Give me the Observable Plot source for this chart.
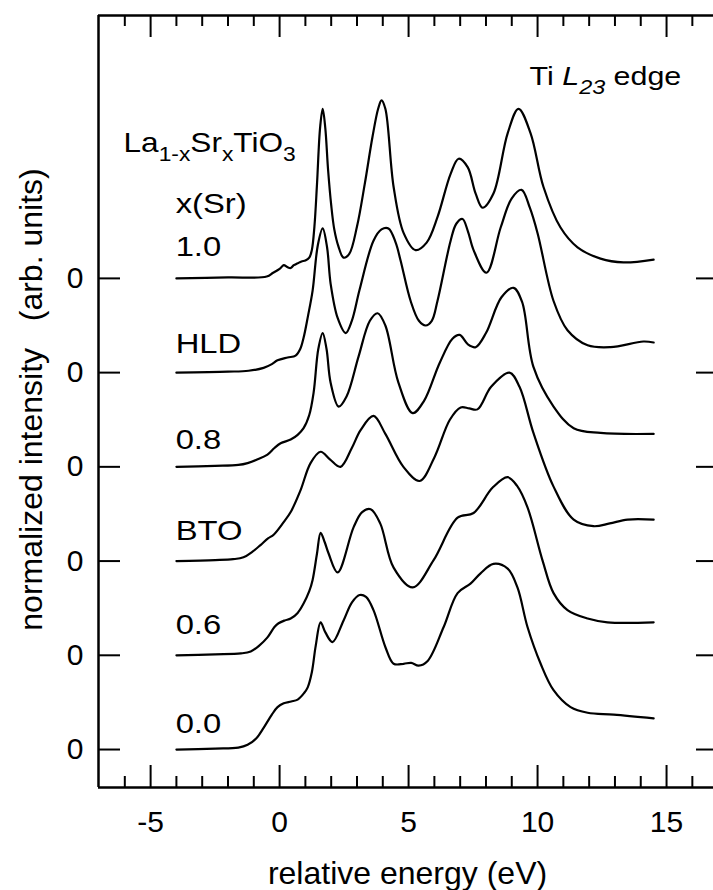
<!DOCTYPE html>
<html><head><meta charset="utf-8">
<script src="https://cdn.jsdelivr.net/npm/d3@7"></script>
<script src="https://cdn.jsdelivr.net/npm/@observablehq/plot@0.6"></script>
<style>html,body{margin:0;padding:0;background:#fff} svg{display:block} svg text{white-space:pre}</style>
</head><body>
<div id="chart"></div>
<script>
// ---- data: [relative energy (eV), normalized intensity above own baseline] ----
const s_00 = [[-4,0],[-2.5,0.01],[-1.6,0.02],[-1.24,0.05],[-0.9,0.12],[-0.62,0.23],[-0.3,0.37],[-0.08,0.45],[0.16,0.49],[0.45,0.51],[0.70,0.53],[0.95,0.6],[1.09,0.66],[1.25,0.82],[1.4,1.1],[1.59,1.35],[1.78,1.24],[2.05,1.14],[2.48,1.37],[2.8,1.56],[3.1,1.64],[3.35,1.62],[3.64,1.48],[4.11,1.08],[4.42,0.91],[4.81,0.91],[5.1,0.92],[5.39,0.89],[5.74,0.94],[6.36,1.30],[6.90,1.66],[7.40,1.76],[7.79,1.87],[8.29,1.97],[8.84,1.92],[9.22,1.72],[9.61,1.30],[10.12,0.91],[10.62,0.63],[11.28,0.45],[11.94,0.39],[12.95,0.37],[14.5,0.33]];
const s_06 = [[-4,0],[-2.5,0.01],[-1.5,0.02],[-1.12,0.04],[-0.8,0.1],[-0.47,0.19],[-0.2,0.3],[-0.04,0.34],[0.2,0.37],[0.43,0.39],[0.7,0.45],[0.93,0.55],[1.15,0.68],[1.28,0.80],[1.45,1.08],[1.59,1.30],[1.75,1.2],[1.90,1.08],[2.25,0.88],[2.87,1.36],[3.2,1.52],[3.53,1.55],[3.9,1.4],[4.42,0.93],[5.16,0.72],[5.97,1.01],[6.90,1.46],[7.52,1.51],[8.26,1.78],[8.84,1.89],[9.2,1.8],[9.61,1.57],[10.2,1.0],[10.62,0.66],[11.16,0.48],[11.94,0.39],[12.71,0.35],[14.5,0.35]];
const s_BTO = [[-4,0],[-2.5,0.01],[-1.8,0.02],[-1.40,0.04],[-1.05,0.1],[-0.74,0.17],[-0.45,0.24],[-0.23,0.28],[0.15,0.41],[0.43,0.52],[0.81,0.75],[1.20,1.04],[1.59,1.16],[1.95,1.08],[2.36,1.00],[2.8,1.2],[3.14,1.39],[3.64,1.54],[4.1,1.35],[4.8,1.0],[5.43,0.85],[6.0,1.1],[6.6,1.5],[7.02,1.63],[7.35,1.62],[7.67,1.61],[8.2,1.85],[8.91,2.00],[9.3,1.85],[9.84,1.36],[10.62,0.79],[11.40,0.44],[12.17,0.37],[12.8,0.4],[13.49,0.44],[14.5,0.44]];
const s_08 = [[-4,0],[-2.5,0.01],[-1.6,0.02],[-1.24,0.04],[-0.85,0.08],[-0.47,0.13],[-0.2,0.2],[0.04,0.25],[0.43,0.29],[0.7,0.34],[0.93,0.41],[1.15,0.55],[1.32,0.79],[1.5,1.25],[1.67,1.42],[1.82,1.25],[1.98,0.89],[2.29,0.64],[2.6,0.75],[3.06,1.17],[3.5,1.55],[3.80,1.63],[4.1,1.5],[4.6,0.9],[5.16,0.57],[5.6,0.7],[6.2,1.1],[6.7,1.36],[6.98,1.40],[7.3,1.30],[7.60,1.27],[8.0,1.42],[8.6,1.8],[9.07,1.90],[9.4,1.75],[9.84,1.06],[10.62,0.64],[11.40,0.41],[12.44,0.36],[14.5,0.35]];
const s_HLD = [[-4,0],[-2,0.01],[-1.2,0.02],[-0.62,0.05],[-0.3,0.09],[-0.08,0.13],[0.31,0.16],[0.62,0.18],[0.8,0.25],[0.93,0.37],[1.1,0.6],[1.28,0.87],[1.48,1.35],[1.67,1.53],[1.84,1.33],[1.98,0.94],[2.25,0.58],[2.56,0.42],[2.8,0.55],[3.1,0.88],[3.64,1.40],[3.95,1.52],[4.22,1.53],[4.5,1.38],[4.69,1.19],[5.08,0.76],[5.4,0.55],[5.66,0.50],[5.9,0.55],[6.12,0.76],[6.63,1.40],[6.85,1.58],[7.09,1.63],[7.3,1.5],[7.52,1.30],[8.02,1.06],[8.57,1.54],[9.0,1.85],[9.38,1.94],[9.7,1.75],[10.0,1.48],[10.62,0.76],[11.16,0.45],[11.94,0.29],[12.83,0.27],[14.1,0.33],[14.5,0.32]];
const s_10 = [[-4,0],[-2,0.01],[-0.5,0.02],[-0.25,0.06],[0,0.1],[0.16,0.14],[0.3,0.12],[0.43,0.11],[0.55,0.14],[0.70,0.16],[0.85,0.18],[1.0,0.19],[1.15,0.22],[1.25,0.3],[1.35,0.55],[1.45,1.0],[1.57,1.6],[1.67,1.80],[1.77,1.6],[1.88,1.15],[2.0,0.78],[2.12,0.52],[2.28,0.34],[2.48,0.22],[2.7,0.26],[3.0,0.55],[3.3,1.0],[3.6,1.5],[3.82,1.8],[3.95,1.89],[4.1,1.8],[4.42,0.97],[4.81,0.48],[5.27,0.30],[5.7,0.38],[6.12,0.65],[6.63,1.11],[6.94,1.27],[7.29,1.18],[7.6,0.90],[7.87,0.75],[8.29,0.90],[8.84,1.54],[9.26,1.80],[9.73,1.54],[10.23,0.97],[10.89,0.54],[11.55,0.33],[12.44,0.21],[13.33,0.17],[14.5,0.20]];

const seriesNames   = ["0.0", "0.6", "BTO", "0.8", "HLD", "1.0"];
const seriesData    = [s_00, s_06, s_BTO, s_08, s_HLD, s_10];
const seriesOffsets = [0, 1, 2, 3, 4, 5];
const seriesLabelY  = [0.18, 1.23, 2.22, 3.185, 4.21, 5.24];
const seriesLabelX  = -4.03;

const xMajorTicks = [-5, 0, 5, 10, 15];
const xMinorTicks = [-6, -4, -3, -2, -1, 1, 2, 3, 4, 6, 7, 8, 9, 11, 12, 13, 14, 16];
const yTickLabels = ["0", "0", "0", "0", "0", "0"];
const xDomain = [-7.02, 16.82];
const yDomain = [-0.403, 7.79];

const xTitle = "relative energy (eV)";
const yTitle = "normalized intensity   (arb. units)";
const formulaLabel = {x: -6.05, y: 6.34, text: "La1-xSrxTiO3",
  parts: [["La", 0, 0], ["1-x", 1, 0], ["Sr", 0, 0], ["x", 1, 0], ["TiO", 0, 0], ["3", 1, 0]]};
const xsrLabel = {x: -4.03, y: 5.69, text: "x(Sr)"};
const edgeLabel = {x: 9.69, y: 7.05, text: "Ti L23 edge",
  parts: [["Ti ", 0, 0], ["L", 0, 1], ["23", 1, 1], [" edge", 0, 0]]};

// ---- table for the library ----
const table = seriesData.flatMap((s, k) => s.map(([e, v]) => ({energy: e, value: v + seriesOffsets[k], series: seriesNames[k]})));
const seriesLabels = seriesNames.map((n, k) => ({name: n, x: seriesLabelX, y: seriesLabelY[k]}));

const W = 713, H = 890, mL = 98, mR = 0, mT = 15, mB = 103;
const plotW = W - mL - mR, plotH = H - mT - mB;
const FONT = "'Liberation Sans', Arial, Helvetica, sans-serif";

const chart = Plot.plot({
  width: W, height: H,
  marginLeft: mL, marginRight: mR, marginTop: mT, marginBottom: mB,
  x: {domain: xDomain, axis: null},
  y: {domain: yDomain, axis: null},
  style: {fontFamily: FONT, background: "white", color: "black"},
  marks: [
    // frame (left, bottom, top)
    Plot.ruleX([xDomain[0]], {stroke: "black", strokeWidth: 2.5}),
    Plot.ruleY([yDomain[0], yDomain[1]], {stroke: "black", strokeWidth: 2.5}),
    // x ticks, bottom and top, pointing inward
    Plot.tickX(xMajorTicks, {x: d => d, insetTop: plotH - 22, stroke: "black", strokeWidth: 2}),
    Plot.tickX(xMinorTicks, {x: d => d, insetTop: plotH - 11, stroke: "black", strokeWidth: 2}),
    Plot.tickX(xMajorTicks, {x: d => d, insetBottom: plotH - 22, stroke: "black", strokeWidth: 2}),
    Plot.tickX(xMinorTicks, {x: d => d, insetBottom: plotH - 11, stroke: "black", strokeWidth: 2}),
    // y ticks at each baseline, left and right
    Plot.tickY(seriesOffsets, {y: d => d, insetRight: plotW - 22, stroke: "black", strokeWidth: 2}),
    Plot.tickY(seriesOffsets, {y: d => d, insetLeft: plotW - 17, stroke: "black", strokeWidth: 2}),
    // tick labels
    Plot.text(xMajorTicks, {x: d => d, text: d => String(d), frameAnchor: "bottom", dy: 23, lineAnchor: "top", fontSize: 30, fill: "black"}),
    Plot.text(seriesOffsets, {y: d => d, text: (d, i) => yTickLabels[i], frameAnchor: "left", dx: -15, textAnchor: "end", fontSize: 30, fill: "black"}),
    // axis titles
    Plot.text([xTitle], {text: d => d, frameAnchor: "bottom", dx: 1.5, dy: 96, lineAnchor: "bottom", fontSize: 32, fill: "black"}),
    Plot.text([yTitle], {text: d => d, frameAnchor: "left", textAnchor: "middle", rotate: -90, dx: -57, dy: -2, lineAnchor: "bottom", fontSize: 32, fill: "black"}),
    // spectra
    Plot.line(table, {x: "energy", y: "value", z: "series", curve: "catmull-rom", stroke: "black", strokeWidth: 2.2}),
    // annotations
    Plot.text(seriesLabels, {x: "x", y: "y", text: "name", textAnchor: "start", lineAnchor: "bottom", fontSize: 28, fill: "black"}),
    Plot.text([xsrLabel], {x: "x", y: "y", text: "text", textAnchor: "start", lineAnchor: "bottom", fontSize: 28, fill: "black"}),
    Plot.text([formulaLabel], {x: "x", y: "y", text: "text", textAnchor: "start", lineAnchor: "bottom", fontSize: 27, fill: "black"}),
    Plot.text([edgeLabel], {x: "x", y: "y", text: "text", textAnchor: "start", lineAnchor: "bottom", fontSize: 26, fill: "black"})
  ]
});
document.getElementById("chart").appendChild(chart);

// ---- post-processing: sub/italic parts and wider annotation type ----
const SVGNS = "http://www.w3.org/2000/svg";
function rich(t, parts, subSize, shift) {
  t.textContent = "";
  let down = false;
  for (const [str, sub, ital] of parts) {
    const ts = document.createElementNS(SVGNS, "tspan");
    ts.textContent = str;
    if (sub && !down) { ts.setAttribute("dy", shift); down = true; }
    else if (!sub && down) { ts.setAttribute("dy", -shift); down = false; }
    if (sub) ts.setAttribute("font-size", subSize);
    if (ital) ts.setAttribute("font-style", "italic");
    t.appendChild(ts);
  }
}
function stretch(t, s) {
  const tr = t.getAttribute("transform");
  if (tr) t.setAttribute("transform", tr + ` scale(${s},1)`);
  else {
    const x = parseFloat(t.getAttribute("x")) || 0, y = parseFloat(t.getAttribute("y")) || 0;
    t.setAttribute("transform", `translate(${x},${y}) scale(${s},1) translate(${-x},${-y})`);
  }
}
const annotTexts = new Set([...seriesNames, xsrLabel.text, formulaLabel.text, edgeLabel.text]);
const annots = [...chart.querySelectorAll("text")].filter(t => annotTexts.has(t.textContent));
for (const t of annots) {
  if (t.textContent === formulaLabel.text) rich(t, formulaLabel.parts, 19.5, 9);
  else if (t.textContent === edgeLabel.text) rich(t, edgeLabel.parts, 20, 9);
  stretch(t, 1.17);
}
</script>
</body></html>
